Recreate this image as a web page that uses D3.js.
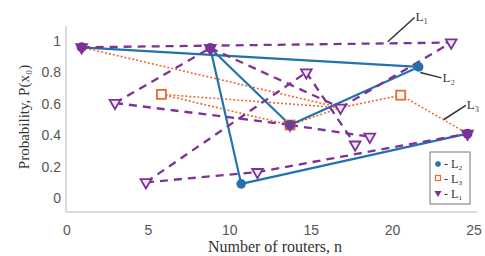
<!DOCTYPE html>
<html>
<head>
<meta charset="utf-8">
<script src="https://cdn.jsdelivr.net/npm/d3@7"></script>
<style>
  body { margin: 0; background: #fff; }
  svg { display: block; }
</style>
</head>
<body>
<div id="chart"></div>
<script>
// segments of each series, as [[n1, p1], [n2, p2]]
var segL1 = [
  [[0.9, 0.96], [23.6, 0.99]],
  [[2.95, 0.605], [8.8, 0.955]],
  [[2.95, 0.605], [13.7, 0.465]],
  [[4.85, 0.10], [14.7, 0.80]],
  [[4.85, 0.10], [11.7, 0.165]],
  [[11.7, 0.165], [24.6, 0.41]],
  [[8.8, 0.955], [16.8, 0.575]],
  [[14.7, 0.80], [17.7, 0.34]],
  [[13.7, 0.465], [18.6, 0.39]],
  [[16.8, 0.575], [23.6, 0.99]]
];
var segL2 = [
  [[0.9, 0.96], [21.6, 0.835]],
  [[8.8, 0.955], [10.7, 0.09]],
  [[8.8, 0.955], [13.7, 0.465]],
  [[13.7, 0.465], [21.6, 0.835]],
  [[10.7, 0.09], [24.6, 0.41]]
];
var segL3 = [
  [[0.9, 0.96], [16.8, 0.575]],
  [[5.8, 0.66], [16.8, 0.575]],
  [[5.8, 0.66], [13.7, 0.465]],
  [[13.7, 0.465], [16.8, 0.575]],
  [[16.8, 0.575], [20.5, 0.655]],
  [[20.5, 0.655], [24.6, 0.41]]
];

// markers
var ptsL1open = [[23.6, 0.99], [2.95, 0.605], [4.85, 0.10], [11.7, 0.165], [14.7, 0.80], [16.8, 0.575], [17.7, 0.34], [18.6, 0.39]];
var ptsL1fill = [[0.9, 0.96], [8.8, 0.955], [24.6, 0.41], [13.7, 0.465]];
var ptsL2 = [[10.7, 0.09], [21.6, 0.835], [13.7, 0.465]];
var ptsL3 = [[5.8, 0.66], [20.5, 0.655], [13.7, 0.465]];

var xTicks = [0, 5, 10, 15, 20, 25];
var yTicks = [0, 0.2, 0.4, 0.6, 0.8, 1];
var legendLabels = ["L\u2082", "L\u2083", "L\u2081"];

// annotation labels with leader lines [from, to]
var notes = [
  { label: "L\u2081", from: [19.7, 0.995], to: [21.35, 1.15] },
  { label: "L\u2082", from: [21.7, 0.80], to: [23.0, 0.765] },
  { label: "L\u2083", from: [23.15, 0.50], to: [24.5, 0.59] }
];

var width = 485, height = 256;
var blue = "#2272ad", orange = "#ec6a2c", purple = "#7d3295";

var svg = d3.select("#chart").append("svg")
  .attr("width", width)
  .attr("height", height);

var x = d3.scaleLinear().domain([0, 25]).range([67, 474]);
var y = d3.scaleLinear().domain([0, 1]).range([198, 41]);

// axis frame
svg.append("line")
  .attr("x1", 66).attr("x2", 477)
  .attr("y1", 212).attr("y2", 212)
  .attr("stroke", "#cfcfcf").attr("stroke-width", 1.5);
svg.append("line")
  .attr("x1", 66).attr("x2", 66)
  .attr("y1", 26).attr("y2", 212)
  .attr("stroke", "#cfcfcf").attr("stroke-width", 1.5);

svg.selectAll(".xt")
  .data(xTicks)
  .enter().append("text")
  .attr("x", function(d) { return x(d); })
  .attr("y", 235)
  .attr("text-anchor", "middle")
  .attr("font-family", "Liberation Sans, Arial, sans-serif")
  .attr("font-size", 14)
  .attr("fill", "#555")
  .text(function(d) { return d; });

svg.selectAll(".yt")
  .data(yTicks)
  .enter().append("text")
  .attr("x", 61)
  .attr("y", function(d) { return y(d) + 5; })
  .attr("text-anchor", "end")
  .attr("font-family", "Liberation Sans, Arial, sans-serif")
  .attr("font-size", 14)
  .attr("fill", "#555")
  .text(function(d) { return d; });

svg.append("text")
  .attr("x", 275).attr("y", 252)
  .attr("text-anchor", "middle")
  .attr("font-family", "Liberation Serif, Times New Roman, serif")
  .attr("font-size", 16)
  .attr("fill", "#333")
  .text("Number of routers, n");

svg.append("text")
  .attr("transform", "translate(29,117) rotate(-90)")
  .attr("text-anchor", "middle")
  .attr("font-family", "Liberation Serif, Times New Roman, serif")
  .attr("font-size", 15)
  .attr("fill", "#333")
  .text("Probability, P(x\u2080)");

function drawSegs(data, color, w, dash) {
  svg.append("g").selectAll("line")
    .data(data)
    .enter().append("line")
    .attr("x1", function(d) { return x(d[0][0]); })
    .attr("y1", function(d) { return y(d[0][1]); })
    .attr("x2", function(d) { return x(d[1][0]); })
    .attr("y2", function(d) { return y(d[1][1]); })
    .attr("stroke", color)
    .attr("stroke-width", w)
    .attr("stroke-dasharray", dash);
}

drawSegs(segL3, orange, 1.6, "2,2");
drawSegs(segL2, blue, 2.2, null);
drawSegs(segL1, purple, 2.3, "8,6");

var tri = d3.symbol().type(d3.symbolTriangle).size(50);

// orange squares
svg.append("g").selectAll("rect")
  .data(ptsL3)
  .enter().append("rect")
  .attr("x", function(d) { return x(d[0]) - 4.5; })
  .attr("y", function(d) { return y(d[1]) - 4.5; })
  .attr("width", 9).attr("height", 9)
  .attr("fill", "#fff")
  .attr("stroke", orange)
  .attr("stroke-width", 1.8);

// blue circles
svg.append("g").selectAll("circle")
  .data(ptsL2)
  .enter().append("circle")
  .attr("cx", function(d) { return x(d[0]); })
  .attr("cy", function(d) { return y(d[1]); })
  .attr("r", 4.8)
  .attr("fill", blue);

// open purple triangles
svg.append("g").selectAll("path")
  .data(ptsL1open)
  .enter().append("path")
  .attr("d", tri)
  .attr("transform", function(d) { return "translate(" + x(d[0]) + "," + y(d[1]) + ") rotate(180)"; })
  .attr("fill", "#f3e6f6")
  .attr("stroke", purple)
  .attr("stroke-width", 1.8);

// filled purple markers (overlapping nodes)
var fillG = svg.append("g").selectAll("g")
  .data(ptsL1fill)
  .enter().append("g")
  .attr("transform", function(d) { return "translate(" + x(d[0]) + "," + y(d[1]) + ")"; })
  .attr("opacity", function(d, i) { return i === 3 ? 0.75 : 1; });
fillG.append("circle")
  .attr("r", 5)
  .attr("fill", purple);
fillG.append("path")
  .attr("d", d3.symbol().type(d3.symbolTriangle).size(55))
  .attr("transform", "rotate(180)")
  .attr("fill", purple)
  .attr("stroke", purple)
  .attr("stroke-width", 1.5);

// annotations
notes.forEach(function(n) {
  svg.append("line")
    .attr("x1", x(n.from[0])).attr("y1", y(n.from[1]))
    .attr("x2", x(n.to[0])).attr("y2", y(n.to[1]))
    .attr("stroke", "#333").attr("stroke-width", 1.5);
  svg.append("text")
    .attr("x", x(n.to[0]) + 1)
    .attr("y", y(n.to[1]) + 4)
    .attr("font-family", "Liberation Serif, Times New Roman, serif")
    .attr("font-size", 13)
    .attr("fill", "#333")
    .text(n.label);
});

// legend
var lg = svg.append("g").attr("transform", "translate(430,152)");
lg.append("rect")
  .attr("width", 40).attr("height", 52)
  .attr("fill", "#fff")
  .attr("stroke", "#777")
  .attr("stroke-width", 1);
lg.append("circle").attr("cx", 8).attr("cy", 12).attr("r", 2.8).attr("fill", blue);
lg.append("rect").attr("x", 5.5).attr("y", 23.5).attr("width", 5).attr("height", 5)
  .attr("fill", "#fff").attr("stroke", orange).attr("stroke-width", 1.2);
lg.append("path")
  .attr("d", d3.symbol().type(d3.symbolTriangle).size(22))
  .attr("transform", "translate(8,41) rotate(180)")
  .attr("fill", purple);
lg.selectAll(".lt")
  .data(legendLabels)
  .enter().append("text")
  .attr("x", 14)
  .attr("y", function(d, i) { return 16 + i * 15; })
  .attr("font-family", "Liberation Serif, Times New Roman, serif")
  .attr("font-size", 12)
  .attr("fill", "#333")
  .text(function(d) { return "- " + d; });
</script>
</body>
</html>
